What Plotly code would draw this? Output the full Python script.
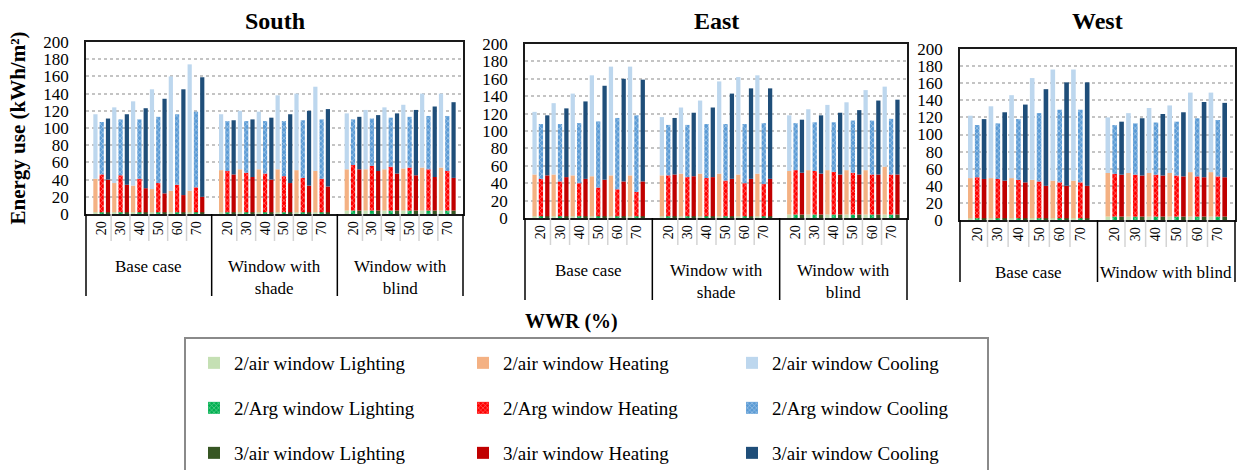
import plotly.graph_objects as go

FONT = "Liberation Serif"
W, H = 1239, 470

WWR = ["20", "30", "40", "50", "60", "70"]
WINDOWS = ["2/air window", "2/Arg window", "3/air window"]
USES = ["Lighting", "Heating", "Cooling"]

SOUTH_CASES = ["Base case", "Window with<br>shade", "Window with<br>blind"]
EAST_CASES = ["Base case", "Window with<br>shade", "Window with<br>blind"]
WEST_CASES = ["Base case", "Window with blind"]

# Energy use (kWh/m2); six WWR values per case, cases in the order listed above
south_2air_lighting = [2, 2, 2, 2, 2, 2, 2, 2, 2, 2, 2, 2, 4, 4, 4, 4, 4, 4]
south_2air_heating = [39, 34, 31, 27, 25, 25, 49, 50, 50, 50, 49, 48, 48, 48, 48, 49, 50, 50]
south_2air_cooling = [75, 88, 98, 116, 133, 147, 65, 68, 67, 86, 89, 98, 65, 69, 72, 74, 86, 86]
south_2arg_lighting = [2, 2, 2, 2, 2, 2, 2, 2, 2, 2, 2, 2, 4, 4, 4, 4, 4, 4]
south_2arg_heating = [44, 43, 39, 34, 32, 29, 48, 46, 45, 42, 40, 39, 53, 52, 51, 50, 48, 46]
south_2arg_cooling = [61, 65, 69, 77, 82, 88, 58, 60, 61, 64, 67, 69, 53, 55, 57, 59, 62, 64]
south_3air_lighting = [2, 2, 2, 2, 2, 2, 2, 2, 2, 2, 2, 2, 4, 4, 4, 4, 4, 4]
south_3air_heating = [38, 32, 28, 22, 20, 18, 44, 41, 38, 34, 31, 30, 48, 46, 43, 41, 39, 38]
south_3air_cooling = [71, 82, 93, 110, 123, 139, 63, 67, 72, 80, 87, 90, 61, 65, 70, 76, 82, 88]

east_2air_lighting = [2, 2, 2, 2, 2, 2, 2, 2, 2, 2, 2, 2, 4, 4, 4, 4, 4, 4]
east_2air_heating = [48, 48, 47, 46, 47, 47, 47, 49, 49, 49, 48, 49, 50, 51, 51, 51, 51, 55]
east_2air_cooling = [72, 82, 94, 116, 125, 125, 67, 76, 84, 106, 112, 113, 64, 70, 75, 78, 92, 92]
east_2arg_lighting = [2, 2, 2, 2, 2, 2, 2, 2, 2, 2, 2, 2, 4, 4, 4, 4, 4, 4]
east_2arg_heating = [43, 40, 38, 33, 31, 28, 47, 45, 44, 41, 38, 37, 51, 50, 49, 48, 46, 46]
east_2arg_cooling = [63, 66, 69, 76, 82, 88, 58, 60, 62, 65, 68, 70, 54, 56, 57, 60, 62, 64]
east_3air_lighting = [2, 2, 2, 2, 2, 2, 2, 2, 2, 2, 2, 2, 4, 4, 4, 4, 4, 4]
east_3air_heating = [47, 45, 43, 42, 40, 40, 48, 46, 45, 43, 43, 43, 48, 47, 46, 46, 46, 46]
east_3air_cooling = [69, 79, 89, 108, 118, 117, 65, 73, 80, 98, 104, 104, 61, 67, 71, 74, 85, 86]

west_2air_lighting = [2, 2, 2, 2, 2, 2, 4, 4, 4, 4, 4, 4]
west_2air_heating = [47, 47, 47, 45, 44, 44, 51, 51, 51, 51, 52, 52]
west_2air_cooling = [73, 84, 97, 119, 130, 130, 65, 70, 76, 79, 93, 93]
west_2arg_lighting = [2, 2, 2, 2, 2, 2, 4, 4, 4, 4, 4, 4]
west_2arg_heating = [48, 46, 45, 43, 42, 42, 50, 49, 49, 48, 47, 47]
west_2arg_cooling = [61, 65, 71, 80, 85, 85, 57, 60, 61, 63, 68, 66]
west_3air_lighting = [2, 2, 2, 2, 2, 2, 4, 4, 4, 4, 4, 4]
west_3air_heating = [46, 44, 42, 38, 38, 38, 49, 48, 48, 47, 46, 46]
west_3air_cooling = [70, 80, 91, 113, 121, 121, 62, 67, 72, 75, 88, 87]

# colours per window type (Lighting, Heating, Cooling)
LIGHTING_COLORS = ["#c5e0b4", "#00b050", "#375623"]
HEATING_COLORS = ["#f4b183", "#ff0000", "#c00000"]
COOLING_COLORS = ["#bdd7ee", "#5b9bd5", "#1f4e79"]
HATCHED = [False, True, False]
LEGEND_IDS = ["legend", "legend2", "legend3"]

# each case holds six WWR categories plus a one-third-category pad on both sides
PAD = 1 / 3
CASE_SPAN = len(WWR) + 2 * PAD

panels = [
    dict(title="South", cases=SOUTH_CASES,
         data=[(south_2air_lighting, south_2air_heating, south_2air_cooling),
               (south_2arg_lighting, south_2arg_heating, south_2arg_cooling),
               (south_3air_lighting, south_3air_heating, south_3air_cooling)],
         left=86, right=463, top=42, bottom=214, divider=82),
    dict(title="East", cases=EAST_CASES,
         data=[(east_2air_lighting, east_2air_heating, east_2air_cooling),
               (east_2arg_lighting, east_2arg_heating, east_2arg_cooling),
               (east_3air_lighting, east_3air_heating, east_3air_cooling)],
         left=525, right=907, top=44, bottom=218, divider=82),
    dict(title="West", cases=WEST_CASES,
         data=[(west_2air_lighting, west_2air_heating, west_2air_cooling),
               (west_2arg_lighting, west_2arg_heating, west_2arg_cooling),
               (west_3air_lighting, west_3air_heating, west_3air_cooling)],
         left=960, right=1235, top=49, bottom=220, divider=62),
]

fig = go.Figure()
shapes = []
annotations = []
layout = {}

for p, panel in enumerate(panels):
    sfx = "" if p == 0 else str(p + 1)
    n_cases = len(panel["cases"])
    centers = [g * CASE_SPAN + PAD + k + 0.5 for g in range(n_cases) for k in range(len(WWR))]

    for w, (lig, hea, coo) in enumerate(panel["data"]):
        heat_base = lig
        cool_base = [a + b for a, b in zip(lig, hea)]
        parts = [(lig, None, LIGHTING_COLORS[w]),
                 (hea, heat_base, HEATING_COLORS[w]),
                 (coo, cool_base, COOLING_COLORS[w])]
        for u, (vals, base, col) in enumerate(parts):
            marker = dict(color=col, line=dict(width=0))
            if HATCHED[w]:
                marker["pattern"] = dict(shape="x", fgcolor="white", bgcolor=col,
                                         size=4, solidity=0.3, fillmode="overlay")
            fig.add_trace(go.Bar(
                x=centers, y=vals, base=base, offsetgroup=str(w),
                xaxis="x" + sfx, yaxis="y" + sfx, marker=marker,
                name=f"{WINDOWS[w]} {USES[u]}",
                showlegend=(p == 0), legend=LEGEND_IDS[w],
            ))

    plot_h = panel["bottom"] - panel["top"]
    layout["xaxis" + sfx] = dict(
        domain=[panel["left"] / W, panel["right"] / W],
        anchor="y" + sfx, range=[0, n_cases * CASE_SPAN],
        tickmode="array", tickvals=centers, ticktext=WWR * n_cases,
        tickangle=-90, ticks="", tickfont=dict(family=FONT, size=14, color="#000"),
        showgrid=False, zeroline=False, showline=True, mirror=True,
        linecolor="#1a1a1a", linewidth=1.5, fixedrange=True,
    )
    layout["yaxis" + sfx] = dict(
        domain=[1 - panel["bottom"] / H, 1 - panel["top"] / H],
        anchor="x" + sfx, range=[0, 200], tick0=0, dtick=20,
        ticks="", tickfont=dict(family=FONT, size=17, color="#000"),
        ticklabelstandoff=12,
        showgrid=True, gridcolor="#c4c4c4", griddash="dot", gridwidth=1.5,
        zeroline=False, showline=True, mirror=True,
        linecolor="#1a1a1a", linewidth=1.5, fixedrange=True,
    )

    # light separators between WWR categories
    for g in range(n_cases):
        for k in range(1, len(WWR)):
            shapes.append(dict(type="line", xref="x" + sfx, yref=f"y{sfx} domain",
                               x0=g * CASE_SPAN + PAD + k, x1=g * CASE_SPAN + PAD + k,
                               y0=0, y1=-27 / plot_h,
                               line=dict(color="#d4d4d4", width=1.5)))
    # case dividers, including both outer edges
    depth = -panel["divider"] / plot_h
    for g in range(1, n_cases):
        shapes.append(dict(type="line", xref="x" + sfx, yref=f"y{sfx} domain",
                           x0=g * CASE_SPAN, x1=g * CASE_SPAN, y0=0, y1=depth,
                           line=dict(color="#000", width=1.5)))
    for edge in (0, 1):
        shapes.append(dict(type="line", xref=f"x{sfx} domain", yref=f"y{sfx} domain",
                           x0=edge, x1=edge, y0=0, y1=depth,
                           line=dict(color="#000", width=1.5)))
    # case labels
    for g, case in enumerate(panel["cases"]):
        annotations.append(dict(xref="x" + sfx, yref=f"y{sfx} domain",
                                x=g * CASE_SPAN + CASE_SPAN / 2, y=-41 / plot_h,
                                xanchor="center", yanchor="top", showarrow=False,
                                text=case, align="center",
                                font=dict(family=FONT, size=17, color="#000")))
    # panel title
    annotations.append(dict(xref=f"x{sfx} domain", yref="paper", x=0.5, y=1 - 21 / H,
                            xanchor="center", yanchor="middle", showarrow=False,
                            text=panel["title"],
                            font=dict(family=FONT, size=24, color="#000", weight="bold")))

layout["yaxis"]["title"] = dict(text="Energy use (kWh/m²)", standoff=12,
                                font=dict(family=FONT, size=21, color="#000", weight="bold"))

annotations.append(dict(xref="paper", yref="paper", x=571 / W, y=1 - 321 / H,
                        xanchor="center", yanchor="middle", showarrow=False,
                        text="WWR (%)",
                        font=dict(family=FONT, size=20, color="#000", weight="bold")))

# legend frame
shapes.append(dict(type="rect", xref="paper", yref="paper",
                   x0=185 / W, x1=988 / W, y0=-0.2, y1=1 - 338 / H,
                   line=dict(color="#8a8a8a", width=2), fillcolor="rgba(0,0,0,0)"))

for i, lid in enumerate(LEGEND_IDS):
    layout[lid] = dict(
        orientation="h", x=194 / W, xanchor="left",
        y=1 - (363 + 45 * i) / H, yanchor="middle",
        entrywidth=224, entrywidthmode="pixels",
        font=dict(family=FONT, size=19, color="#000"),
        bgcolor="rgba(0,0,0,0)", borderwidth=0, itemclick=False, itemdoubleclick=False,
    )

fig.update_layout(
    width=W, height=H,
    margin=dict(l=0, r=0, t=0, b=0, autoexpand=False),
    paper_bgcolor="white", plot_bgcolor="white",
    barmode="group", bargap=0, bargroupgap=0.33,
    shapes=shapes, annotations=annotations,
    font=dict(family=FONT, color="#000"),
    **layout,
)

fig.write_html("out.html")
